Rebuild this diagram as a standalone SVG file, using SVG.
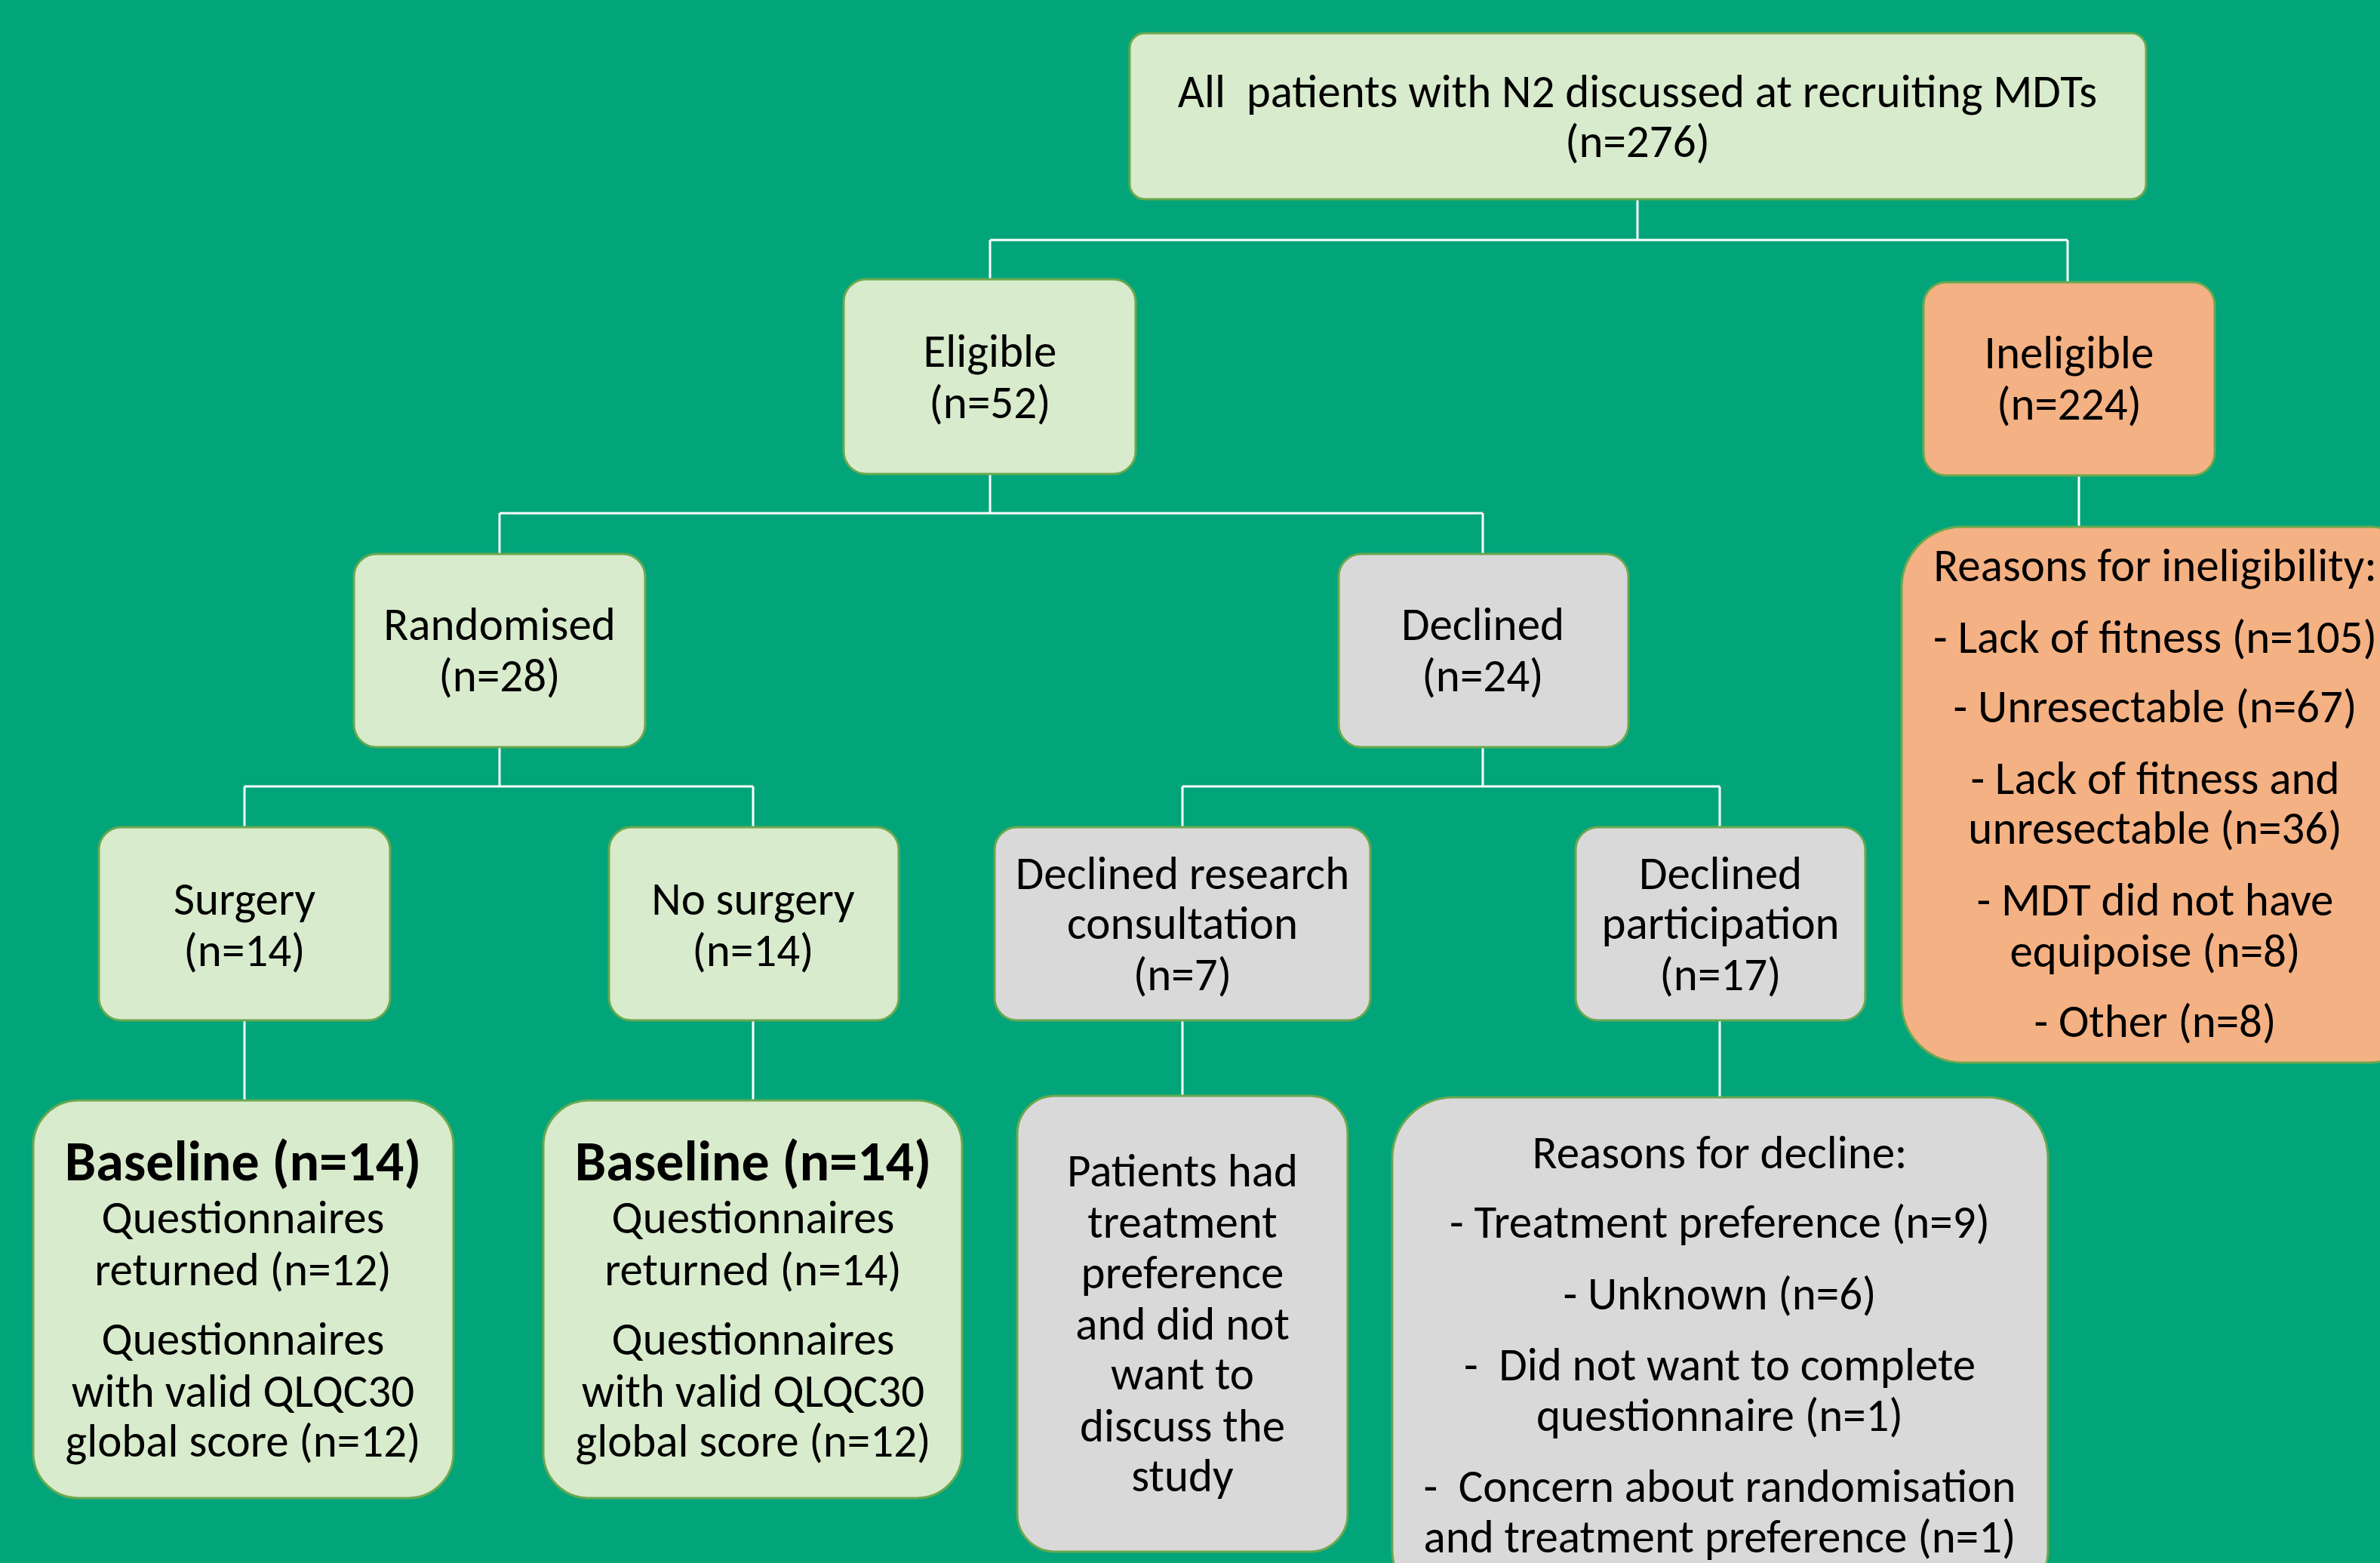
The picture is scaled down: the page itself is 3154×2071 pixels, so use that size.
<svg xmlns="http://www.w3.org/2000/svg" width="3154" height="2071" viewBox="0 0 3154 2071">
<style>
.bg{fill:#02A57A}
.g{fill:#D8EBCC;stroke:#6AA84F;stroke-width:3}
.y{fill:#D9D9D9;stroke:#6AA84F;stroke-width:3}
.o{fill:#F4B183;stroke:#6AA84F;stroke-width:3}
.c{fill:none;stroke:#FFFFFF;stroke-width:3}
text{font-family:Carlito,Lato,"Liberation Sans",sans-serif;font-size:61px;fill:#000;text-anchor:middle}
.b{font-weight:bold;font-size:74px}
</style>
<rect class="bg" x="0" y="0" width="3154" height="2071"/>
<g id="connectors">
<path class="c" d="M2170 264V318M1312 318H2740M1312 318V371M2740 318V375"/>
<path class="c" d="M1312 628V680M662 680H1965M662 680V735M1965 680V735"/>
<path class="c" d="M662 990V1042M324 1042H998M324 1042V1097M998 1042V1097"/>
<path class="c" d="M1965 990V1042M1567 1042H2279M1567 1042V1097M2279 1042V1097"/>
<path class="c" d="M2755 630V699"/>
<path class="c" d="M324 1352V1459M998 1352V1459M1567 1352V1453M2279 1352V1455"/>
</g>
<g id="all">
<rect class="g" x="1497" y="44" width="1347" height="220" rx="20"/>
<text x="2170" y="142" xml:space="preserve">All  patients with N2 discussed at recruiting MDTs</text>
<text x="2170" y="208">(n=276)</text>
</g>
<g id="eligible">
<rect class="g" x="1118" y="370" width="387" height="258" rx="30"/>
<text x="1312" y="486">Eligible</text>
<text x="1312" y="554">(n=52)</text>
</g>
<g id="ineligible">
<rect class="o" x="2549" y="374" width="386" height="256" rx="30"/>
<text x="2742" y="488">Ineligible</text>
<text x="2742" y="556">(n=224)</text>
</g>
<g id="randomised">
<rect class="g" x="469" y="734" width="386" height="256" rx="30"/>
<text x="662" y="848">Randomised</text>
<text x="662" y="916">(n=28)</text>
</g>
<g id="declined">
<rect class="y" x="1774" y="734" width="384" height="256" rx="30"/>
<text x="1965" y="848">Declined</text>
<text x="1965" y="916">(n=24)</text>
</g>
<g id="surgery">
<rect class="g" x="131" y="1096" width="386" height="256" rx="30"/>
<text x="324" y="1212">Surgery</text>
<text x="324" y="1280">(n=14)</text>
</g>
<g id="nosurgery">
<rect class="g" x="807" y="1096" width="384" height="256" rx="30"/>
<text x="998" y="1212">No surgery</text>
<text x="998" y="1280">(n=14)</text>
</g>
<g id="declined-research">
<rect class="y" x="1318" y="1096" width="498" height="256" rx="30"/>
<text x="1567" y="1178">Declined research</text>
<text x="1567" y="1244">consultation</text>
<text x="1567" y="1312">(n=7)</text>
</g>
<g id="declined-participation">
<rect class="y" x="2088" y="1096" width="384" height="256" rx="30"/>
<text x="2280" y="1178">Declined</text>
<text x="2280" y="1244">participation</text>
<text x="2280" y="1312">(n=17)</text>
</g>
<g id="reasons-ineligibility">
<rect class="o" x="2520" y="698" width="700" height="710" rx="80"/>
<text x="2856" y="770">Reasons for ineligibility:</text>
<text x="2856" y="865">- Lack of fitness (n=105)</text>
<text x="2856" y="957">- Unresectable (n=67)</text>
<text x="2856" y="1052">- Lack of fitness and</text>
<text x="2856" y="1118">unresectable (n=36)</text>
<text x="2856" y="1213">- MDT did not have</text>
<text x="2856" y="1281">equipoise (n=8)</text>
<text x="2856" y="1374">- Other (n=8)</text>
</g>
<g id="baseline-surgery">
<rect class="g" x="44" y="1458" width="557" height="527" rx="60"/>
<text class="b" x="322" y="1564">Baseline (n=14)</text>
<text x="322" y="1634">Questionnaires</text>
<text x="322" y="1703">returned (n=12)</text>
<text x="322" y="1795">Questionnaires</text>
<text x="322" y="1864">with valid QLQC30</text>
<text x="322" y="1930">global score (n=12)</text>
</g>
<g id="baseline-nosurgery">
<rect class="g" x="720" y="1458" width="555" height="527" rx="60"/>
<text class="b" x="998" y="1564">Baseline (n=14)</text>
<text x="998" y="1634">Questionnaires</text>
<text x="998" y="1703">returned (n=14)</text>
<text x="998" y="1795">Questionnaires</text>
<text x="998" y="1864">with valid QLQC30</text>
<text x="998" y="1930">global score (n=12)</text>
</g>
<g id="patients-had">
<rect class="y" x="1348" y="1452" width="438" height="604" rx="50"/>
<text x="1567" y="1572">Patients had</text>
<text x="1567" y="1640">treatment</text>
<text x="1567" y="1707">preference</text>
<text x="1567" y="1775">and did not</text>
<text x="1567" y="1841">want to</text>
<text x="1567" y="1910">discuss the</text>
<text x="1567" y="1976">study</text>
</g>
<g id="reasons-decline">
<rect class="y" x="1845" y="1454" width="869" height="680" rx="80"/>
<text x="2279" y="1548">Reasons for decline:</text>
<text x="2279" y="1640">- Treatment preference (n=9)</text>
<text x="2279" y="1735">- Unknown (n=6)</text>
<text x="2279" y="1829" xml:space="preserve">-  Did not want to complete</text>
<text x="2279" y="1896">questionnaire (n=1)</text>
<text x="2279" y="1990" xml:space="preserve">-  Concern about randomisation</text>
<text x="2279" y="2057">and treatment preference (n=1)</text>
</g>
</svg>
